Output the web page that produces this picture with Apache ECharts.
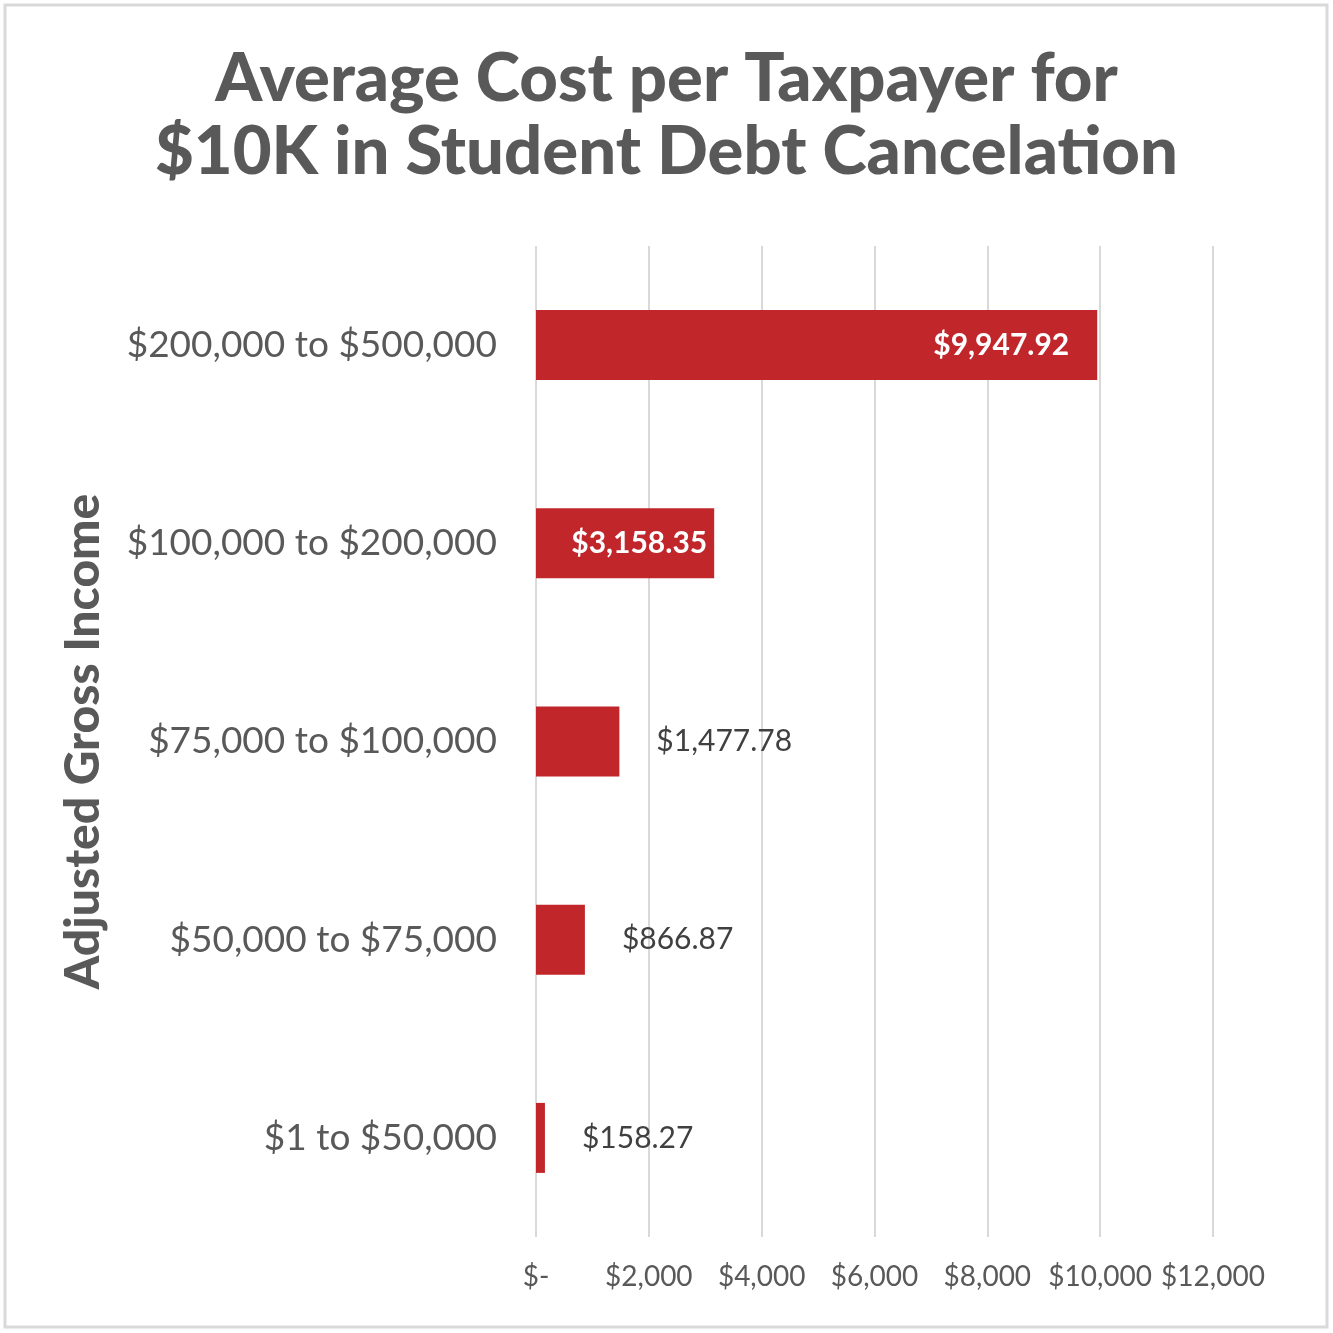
<!DOCTYPE html>
<html>
<head>
<meta charset="utf-8">
<style>
html,body{margin:0;padding:0;background:#fff;}
#c{width:1333px;height:1333px;}
</style>
<script src="https://cdn.jsdelivr.net/npm/echarts@6/dist/echarts.min.js"></script>
</head>
<body>
<div id="c"></div>
<script>
var categories = ['$1 to $50,000', '$50,000 to $75,000', '$75,000 to $100,000', '$100,000 to $200,000', '$200,000 to $500,000'];
var values = [158.27, 866.87, 1477.78, 3158.35, 9947.92];
var valueLabels = ['$158.27', '$866.87', '$1,477.78', '$3,158.35', '$9,947.92'];
var insideFlags = [false, false, false, true, true];
var insideDist = [0, 0, 0, 7, 28];
var xTicks = {0: '$-', 2000: '$2,000', 4000: '$4,000', 6000: '$6,000', 8000: '$8,000', 10000: '$10,000', 12000: '$12,000'};

var FONT = 'Lato, "Open Sans", sans-serif';
var chart = echarts.init(document.getElementById('c'), null, {renderer: 'canvas'});

var data = values.map(function (v, i) {
  var lbl = insideFlags[i] ? {
    show: true, position: 'insideRight', distance: insideDist[i],
    color: '#ffffff', fontWeight: 'bold', fontSize: 30, fontFamily: FONT,
    formatter: valueLabels[i]
  } : {
    show: true, position: 'right', distance: 37,
    color: '#404040', fontSize: 30, fontFamily: FONT,
    formatter: valueLabels[i]
  };
  return {value: v, label: lbl};
});

chart.setOption({
  backgroundColor: '#ffffff',
  animation: false,
  graphic: [{
    type: 'rect',
    shape: {x: 5, y: 5, width: 1322, height: 1322},
    style: {fill: 'none', stroke: '#d9d9d9', lineWidth: 3},
    silent: true
  }],
  title: {
    text: 'Average Cost per Taxpayer for\n$10K in Student Debt Cancelation',
    left: 'center',
    top: 38,
    textStyle: {fontFamily: FONT, fontWeight: 900, fontSize: 67, color: '#595959', lineHeight: 73}
  },
  grid: {left: 536, right: 120, top: 246, bottom: 96, containLabel: false},
  xAxis: {
    type: 'value',
    min: 0, max: 12000, interval: 2000,
    axisLine: {show: false},
    axisTick: {show: false},
    splitLine: {show: true, lineStyle: {color: '#d9d9d9', width: 2}},
    axisLabel: {
      margin: 26,
      fontFamily: FONT, fontSize: 28, color: '#595959',
      formatter: function (v) { return xTicks[v] !== undefined ? xTicks[v] : ''; }
    }
  },
  yAxis: {
    type: 'category',
    data: categories,
    axisLine: {show: false},
    axisTick: {show: false},
    axisLabel: {margin: 39, fontFamily: FONT, fontSize: 37, color: '#595959'},
    name: 'Adjusted Gross Income',
    nameLocation: 'middle',
    nameGap: 428,
    nameRotate: 90,
    nameTextStyle: {fontFamily: FONT, fontWeight: 900, fontSize: 48, color: '#595959'}
  },
  series: [{
    type: 'bar',
    data: data,
    barWidth: 70,
    itemStyle: {color: '#c0262a'}
  }]
});
</script>
</body>
</html>
